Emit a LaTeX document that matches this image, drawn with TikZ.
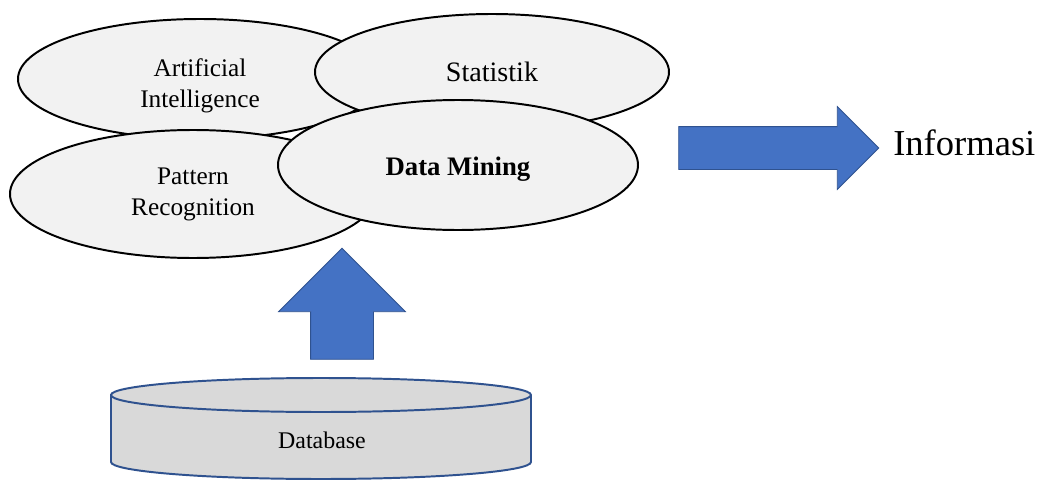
\documentclass[tikz,border=0pt]{standalone}
\usepackage{fontspec}
\setmainfont{Liberation Serif}
\usepackage{tikz}
\usetikzlibrary{shapes.geometric}
\usetikzlibrary{shapes.arrows}

\definecolor{bubblegray}{HTML}{F2F2F2}
\definecolor{dbgray}{HTML}{D9D9D9}
\definecolor{arrowblue}{HTML}{4472C4}
\definecolor{edgeblue}{HTML}{2F528F}

\begin{document}
\begin{tikzpicture}[
	bubble/.style={ellipse,draw=black,line width=1.4pt,fill=bubblegray,inner sep=0pt,align=center,font=\fontsize{18}{22}\selectfont},
	bigarrow/.style={single arrow,draw=edgeblue,line width=0.6pt,fill=arrowblue,inner xsep=0pt,single arrow head extend=#1},
	dbbody/.style={draw=edgeblue,line width=1.4pt,fill=dbgray}]
\useasboundingbox (0,0) rectangle (26.025,12.025);

\draw (5.0,10.05) node[bubble,minimum width=9.1cm,minimum height=3.0cm,
	label={[align=center,font=\fontsize{18}{22}\selectfont,yshift=-0.17cm]center:{Artificial\\Intelligence}}] (ai) {};
\draw (12.3,10.225) node[bubble,minimum width=8.85cm,minimum height=2.9cm,font=\fontsize{20}{24}\selectfont] (stat) {Statistik};
\draw (4.825,7.175) node[bubble,minimum width=9.15cm,minimum height=3.2cm] (pr) {Pattern\\Recognition};
\draw (11.45,7.9) node[bubble,minimum width=9.0cm,minimum height=3.25cm,text height=0.69cm,text depth=0.145cm,font=\fontsize{19}{23}\selectfont\bfseries] (dm) {Data Mining};

\draw (19.2,8.325) node[bigarrow=0.5cm,inner ysep=0.525cm,minimum height=5.0cm] (toinfo) {};
\draw (22.325,8.15) node[anchor=base west,inner sep=0pt,font=\fontsize{26}{30}\selectfont] (info) {Informasi};

\draw (8.55,4.0375) node[bigarrow=0.8cm,inner ysep=0.775cm,minimum height=2.775cm,rotate=90] (todm) {};

\draw[dbbody] (2.775,2.15) -- (2.775,0.475) arc[start angle=180,end angle=360,x radius=5.25,y radius=0.425]
	-- (13.275,2.15) arc[start angle=0,end angle=180,x radius=5.25,y radius=0.425] -- cycle;
\draw[draw=edgeblue,line width=1.4pt] (2.775,2.15) arc[start angle=180,end angle=360,x radius=5.25,y radius=0.425];
\draw (8.05,1.025) node[font=\fontsize{17}{20}\selectfont] (db) {Database};
\end{tikzpicture}
\end{document}
